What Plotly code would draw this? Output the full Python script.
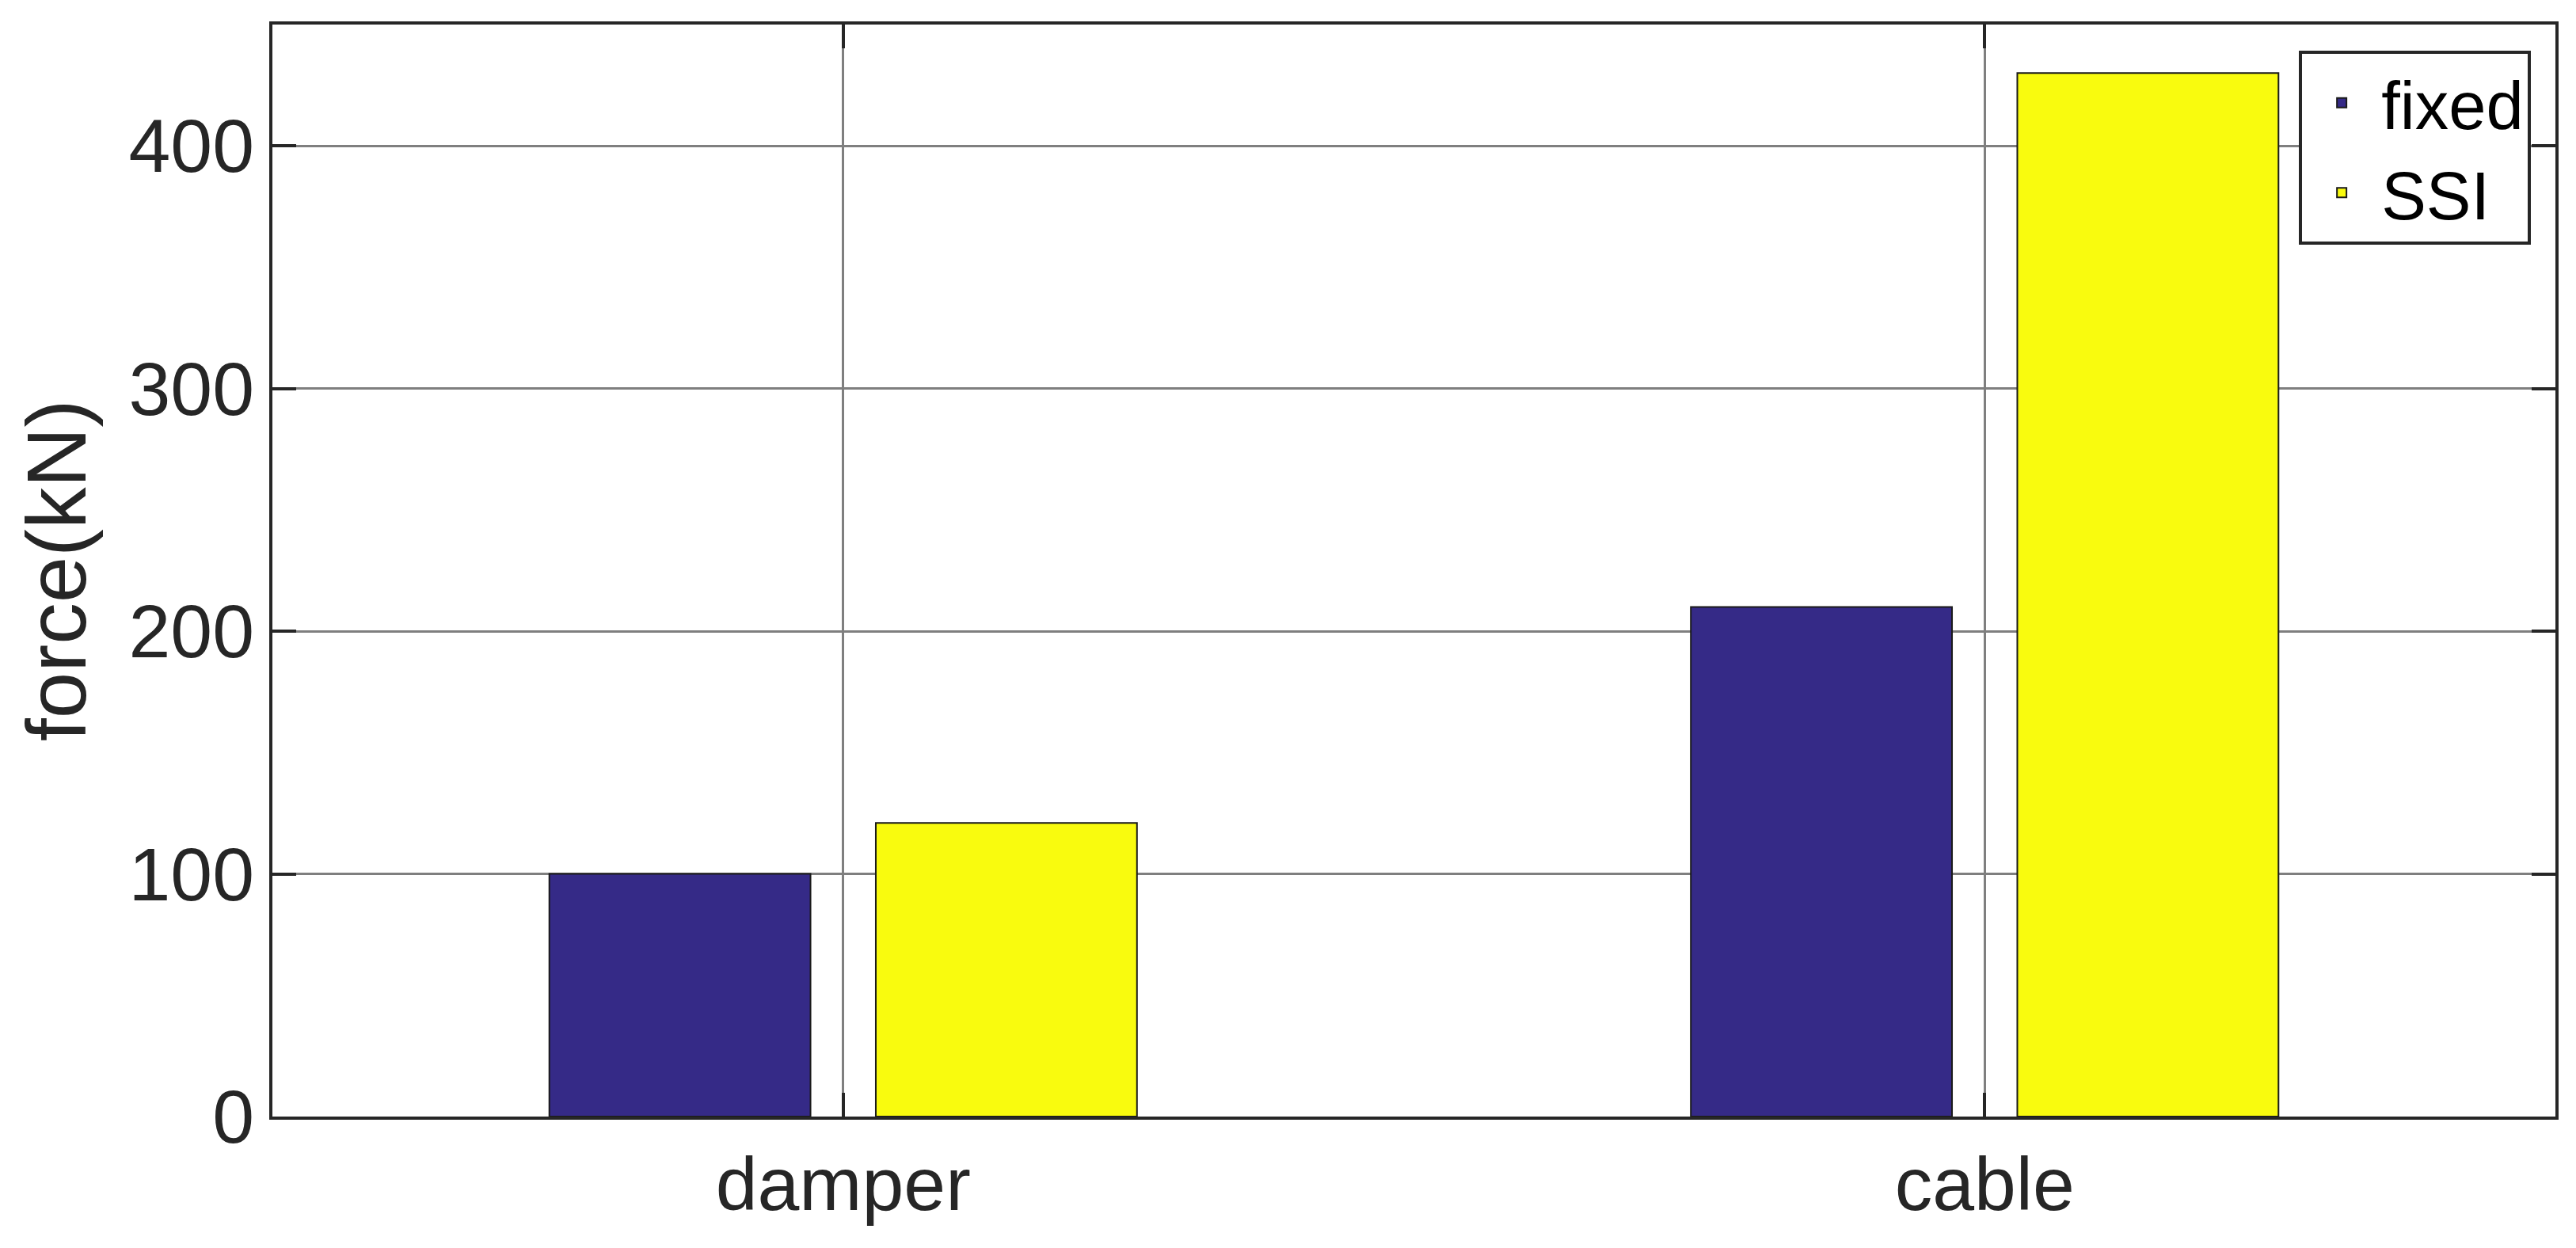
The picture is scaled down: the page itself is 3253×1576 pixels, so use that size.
import plotly.graph_objects as go

# data
categories = ["damper", "cable"]
fixed_force = [100, 210]
ssi_force = [121, 430]
y_ticks = [0, 100, 200, 300, 400]

#------------------------------------------------------------------------------

font_name = "Liberation Sans, Arial, sans-serif"
text_color = "#262626"
grid_color = "#7f7f7f"

fig = go.Figure()

fig.add_trace(go.Bar(x=categories, y=fixed_force, name="fixed",
                     marker=dict(color="#352a87",
                                 line=dict(color="#1a1a1a", width=2))))
fig.add_trace(go.Bar(x=categories, y=ssi_force, name="SSI",
                     marker=dict(color="#f9fb0e",
                                 line=dict(color="#1a1a1a", width=2))))

fig.update_layout(
    width=3253,
    height=1576,
    autosize=False,
    paper_bgcolor="white",
    plot_bgcolor="white",
    barmode="group",
    bargap=0.428,
    bargroupgap=0.2,
    margin=dict(l=336, r=34, t=23, b=174, pad=0),
    font=dict(family=font_name, color=text_color, size=95),
    showlegend=True,
    legend=dict(
        x=0.9893, xanchor="right",
        y=0.976, yanchor="top",
        bgcolor="white",
        bordercolor=text_color,
        borderwidth=4,
        font=dict(size=85, color="black"),
        itemwidth=90,
        tracegroupgap=0,
    ),
    xaxis=dict(
        type="category",
        range=[-0.5, 1.5],
        showgrid=True,
        gridcolor=grid_color,
        gridwidth=3,
        zeroline=False,
        showline=True,
        linecolor=text_color,
        linewidth=4,
        mirror="ticks",
        ticks="inside",
        ticklen=30,
        tickwidth=4,
        tickcolor=text_color,
        tickfont=dict(size=95, color=text_color),
    ),
    yaxis=dict(
        range=[0, 450],
        tickvals=y_ticks,
        ticktext=[str(v) for v in y_ticks],
        showgrid=True,
        gridcolor=grid_color,
        gridwidth=3,
        zeroline=False,
        showline=True,
        linecolor=text_color,
        linewidth=4,
        mirror="ticks",
        ticks="inside",
        ticklen=30,
        tickwidth=4,
        tickcolor=text_color,
        tickfont=dict(size=95, color=text_color),
        title=dict(text="force(kN)", font=dict(size=105, color=text_color),
                   standoff=20),
    ),
)

fig.write_html("out.html")
